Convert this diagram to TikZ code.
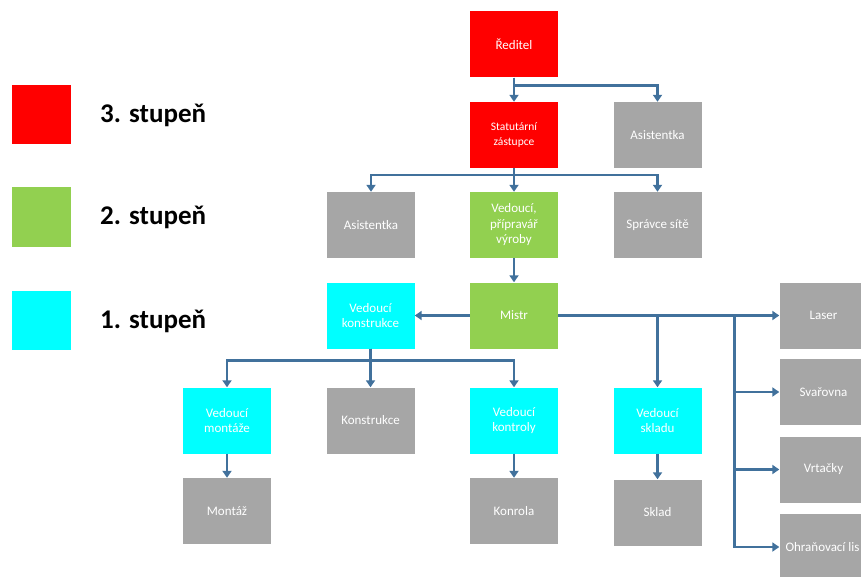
\documentclass[tikz,border=0pt]{standalone}
\usepackage{fontspec}
\setmainfont{Carlito}
\usetikzlibrary{positioning}
\usetikzlibrary{arrows.meta}
\definecolor{lvlred}{HTML}{FF0000}
\definecolor{lvlgreen}{HTML}{92D050}
\definecolor{lvlcyan}{HTML}{00FFFF}
\definecolor{lvlgray}{HTML}{A6A6A6}
\definecolor{linkblue}{HTML}{41719C}
\tikzset{
    box/.style = {rectangle, minimum width=88pt, minimum height=66pt, inner sep=2pt, align=center, text=white, font=\fontsize{13}{15.5}\selectfont},
    boxr/.style = {box, fill=lvlred},
    boxg/.style = {box, fill=lvlgreen},
    boxc/.style = {box, fill=lvlcyan},
    boxn/.style = {box, fill=lvlgray},
    legbox/.style = {rectangle, minimum width=59pt, minimum height=59pt, inner sep=0pt},
    legtext/.style = {anchor=west, inner sep=0pt, font=\bfseries\fontsize{27}{30}\selectfont},
    edgeb/.style = {-{Triangle[width=9pt,length=7pt]}, line width=2.5pt, draw=linkblue},
    edgel/.style = {line width=2.5pt, draw=linkblue}
}
\begin{document}
\begin{tikzpicture}[x=1pt,y=-1pt]
\useasboundingbox (0,0) rectangle (861,577);
\clip (0,0) rectangle (861,577);
%
% legend
\node[legbox, fill=lvlred] at (41.5,114.5) (l3) {};
\node[legbox, fill=lvlgreen] at (41.5,217) (l2) {};
\node[legbox, fill=lvlcyan] at (41.5,320.5) (l1) {};
\node[legtext] at (100,115) (t3) {3. stupeň};
\node[legtext] at (100,217.5) (t2) {2. stupeň};
\node[legtext] at (100,321) (t1) {1. stupeň};
%
% boxes
\node[boxr] at (514,44.5) (red) {Ředitel};
\node[boxr, font=\fontsize{11.5}{15}\selectfont] at (514,135) (stat) {Statutární\\zástupce};
\node[boxn] at (657.5,135) (asis1) {Asistentka};
\node[boxn] at (371,225) (asis2) {Asistentka};
\node[boxg] at (514,225) (vedp) {Vedoucí,\\přípravář\\výroby};
\node[boxn] at (657.5,225) (sprav) {Správce sítě};
\node[boxc] at (370.5,315.5) (vk) {Vedoucí\\konstrukce};
\node[boxg] at (514,315.5) (mistr) {Mistr};
\node[boxc] at (227,420.5) (vm) {Vedoucí\\montáže};
\node[boxn] at (370.5,420.5) (kons) {Konstrukce};
\node[boxc] at (514,420.5) (vko) {Vedoucí\\kontroly};
\node[boxc] at (657.5,420.5) (vsk) {Vedoucí\\skladu};
\node[boxn] at (227,511) (mont) {Montáž};
\node[boxn] at (514,511) (konr) {Konrola};
\node[boxn] at (657.5,512.5) (sklad) {Sklad};
\node[boxn] at (823.5,315.5) (laser) {Laser};
\node[boxn] at (823.5,392) (svar) {Svařovna};
\node[boxn] at (823.5,469.5) (vrt) {Vrtačky};
\node[boxn] at (823.5,547) (ohr) {\hbox to 76pt{Ohraňovací lis\hss}};
\coordinate (bus) at (734.5,315.5);
%
% connectors
\draw[edgeb] (red.south) -- (stat.north);
\draw[edgeb] (red.south) -- ++(0,8) -| (asis1.north);
\draw[edgeb] (stat.south) -- (vedp.north);
\draw[edgeb] (stat.south) -- ++(0,7) -| (asis2.north);
\draw[edgeb] (stat.south) -- ++(0,7) -| (sprav.north);
\draw[edgeb] (vedp.south) -- (mistr.north);
\draw[edgeb] (mistr.west) -- (vk.east);
\draw[edgeb] (vk.south) -- (kons.north);
\draw[edgeb] (vk.south) -- ++(0,12) -| (vm.north);
\draw[edgeb] (vk.south) -- ++(0,12) -| (vko.north);
\draw[edgeb] (mistr.east) -- (laser.west);
\draw[edgeb] (mistr.east) -| (vsk.north);
\draw[edgeb] (bus) |- (svar.west);
\draw[edgeb] (bus) |- (vrt.west);
\draw[edgeb] (bus) |- (ohr.west);
\draw[edgeb] (vm.south) -- (mont.north);
\draw[edgeb] (vko.south) -- (konr.north);
\draw[edgeb] (vsk.south) -- (sklad.north);
\end{tikzpicture}
\end{document}
